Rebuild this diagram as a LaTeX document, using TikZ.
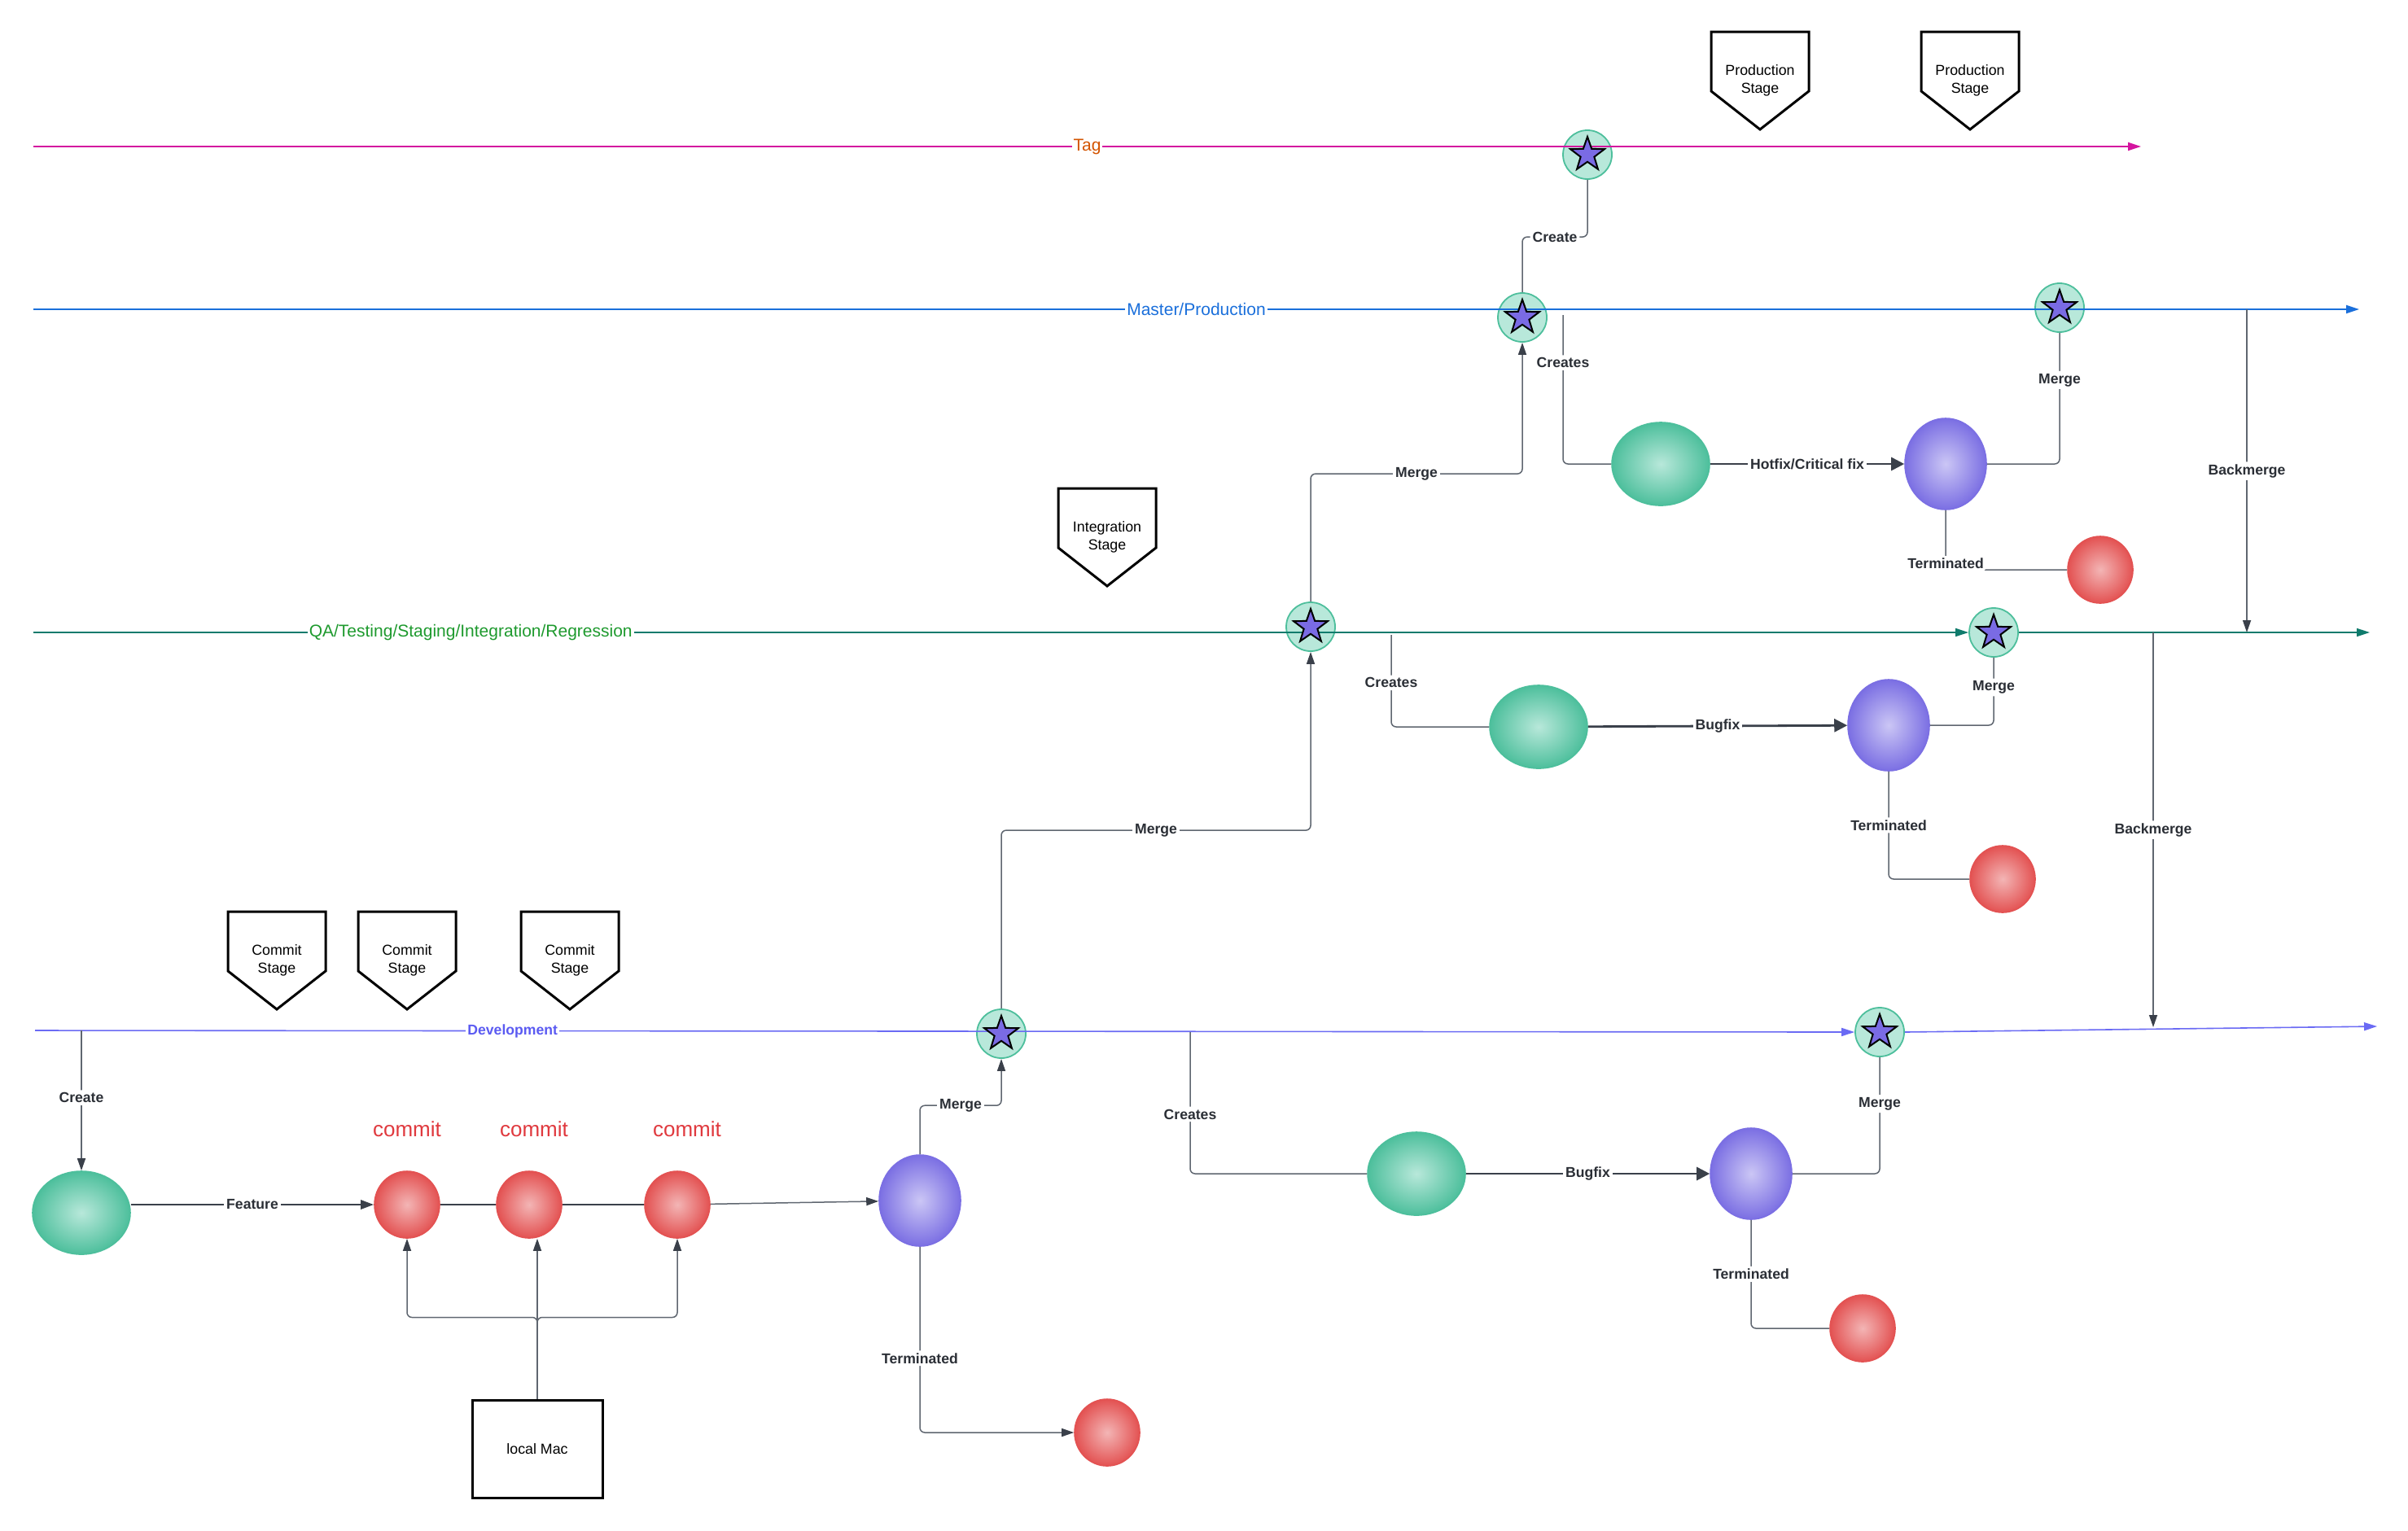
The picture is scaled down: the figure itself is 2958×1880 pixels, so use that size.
\documentclass[tikz,border=0pt]{standalone}
\usepackage{fontspec}
\setmainfont{Liberation Sans}
\usetikzlibrary{shapes.geometric,arrows.meta,calc}

\definecolor{tagc}{HTML}{D4149F}
\definecolor{tagtxt}{HTML}{D35400}
\definecolor{masterc}{HTML}{1A6FDB}
\definecolor{qac}{HTML}{0F7B6C}
\definecolor{qatxt}{HTML}{1E9A2E}
\definecolor{devc}{HTML}{6A6AF4}
\definecolor{devtxt}{HTML}{5B5BF2}
\definecolor{conc}{HTML}{5F6670}
\definecolor{arrc}{HTML}{3A404A}
\definecolor{lbl}{HTML}{2B2F36}
\definecolor{grin}{HTML}{B8E8DA}
\definecolor{grout}{HTML}{4DBF9C}
\definecolor{puin}{HTML}{CBC6F5}
\definecolor{puout}{HTML}{7B6FE3}
\definecolor{rdin}{HTML}{F3B5B5}
\definecolor{rdout}{HTML}{E35252}
\definecolor{starfill}{HTML}{7A6BE4}
\definecolor{commitc}{HTML}{E0393E}

\newcommand\lblfont{\bfseries\fontsize{8.8}{10}\selectfont}
\newcommand\linefont{\fontsize{10.5}{12}\selectfont}
\newcommand\stgfont{\fontsize{8.9}{11}\selectfont}

\newcommand\stagebox[4]{%
  \draw[stageline] (#2-60,#3-60) -- (#2+60,#3-60) -- (#2+60,#3+13) -- (#2,#3+60) -- (#2-60,#3+13) -- cycle;
  \node[stagetxt] (#1) at (#2,#3) {#4};
}

\begin{document}
\begin{tikzpicture}[x=0.5pt,y=-0.5pt,
  stageline/.style={draw=black,line width=1.5pt,line join=miter},
  stagetxt/.style={align=center,font=\stgfont,inner sep=0pt},
  gnode/.style={ellipse,minimum width=60pt,minimum height=51pt,inner sep=0pt,draw=grout,line width=0.8pt,inner color=grin,outer color=grout},
  pnode/.style={ellipse,minimum width=50pt,minimum height=56pt,inner sep=0pt,draw=puout,line width=0.8pt,inner color=puin,outer color=puout},
  rnode/.style={ellipse,minimum width=40pt,minimum height=41pt,inner sep=0pt,draw=rdout,line width=0.8pt,inner color=rdin,outer color=rdout},
  scirc/.style={circle,minimum size=30pt,inner sep=0pt,fill=grin,draw=grout,line width=0.9pt},
  sstar/.style={star,star points=5,star point ratio=2.5,minimum size=22pt,inner sep=0pt,fill=starfill,draw=black,line width=1pt},
  macbox/.style={rectangle,draw=black,line width=1.5pt,minimum width=80pt,minimum height=60pt,font=\stgfont},
  linelab/.style={fill=white,inner sep=1pt,font=\linefont},
  tagline/.style={draw=tagc,line width=1pt,-{Triangle[length=8pt,width=5pt]}},
  masterline/.style={draw=masterc,line width=1pt,-{Triangle[length=8pt,width=5pt]}},
  qaline/.style={draw=qac,line width=0.8pt,-{Triangle[length=8pt,width=5pt]}},
  devline/.style={draw=devc,line width=0.8pt,-{Triangle[length=8pt,width=5pt]}},
  conn/.style={draw=conc,line width=0.75pt,rounded corners=3pt},
  connarr/.style={conn,-{Triangle[length=7.5pt,width=5pt,color=arrc]}},
  thickarr/.style={draw=arrc,line width=1.4pt,-{Triangle[length=8pt,width=8pt]}},
  featarr/.style={draw=arrc,line width=1.4pt,-{Triangle[length=8pt,width=5.5pt]}},
  darkline/.style={draw=arrc,line width=0.8pt},
  lab/.style={fill=white,inner sep=1.5pt,text=lbl,font=\lblfont},
  commitlab/.style={text=commitc,font=\fontsize{13}{15}\selectfont,inner sep=0pt}
]
\fill[white] (0,0) rectangle (2958,1880);
\useasboundingbox (0,0) rectangle (2958,1880);

% stage markers
\stagebox{ps1}{2162}{99}{Production\\Stage}
\stagebox{ps2}{2420}{99}{Production\\Stage}
\stagebox{is1}{1360}{660}{Integration\\Stage}
\stagebox{cs1}{340}{1180}{Commit\\Stage}
\stagebox{cs2}{500}{1180}{Commit\\Stage}
\stagebox{cs3}{700}{1180}{Commit\\Stage}

% star circles
\node[scirc] (ts) at (1950,190) {};
\node[scirc] (ms1) at (1870,390) {};
\node[scirc] (ms2) at (2530,378) {};
\node[scirc] (qs1) at (1610,770) {};
\node[scirc] (qs2) at (2449,777) {};
\node[scirc] (ds1) at (1230,1270) {};
\node[scirc] (ds2) at (2309,1268) {};

% main lines
\coordinate (tl0) at (41,180); \coordinate (tl1) at (2630,180);
\draw[tagline] (tl0) -- node[linelab,text=tagtxt] (taglab) {Tag} (tl1);
\coordinate (ml0) at (41,380); \coordinate (ml1) at (2898,380);
\draw[masterline] (ml0) -- node[linelab,text=masterc] (mlab) {Master/Production} (ml1);
\coordinate (ql0) at (41,777); \coordinate (ql1) at (2911,777);
\draw[qaline] (ql0) -- node[linelab,text=qatxt,pos=0.226] (qlab) {QA/Testing/Staging/Integration/Regression} (qs2.west);
\draw[qaline] (qs2.east) -- (ql1);
\coordinate (dl0) at (43,1266); \coordinate (dl1) at (2920,1261);
\draw[devline] (dl0) -- node[linelab,text=devtxt,font=\lblfont,pos=0.2625] (dlab) {Development} (ds2.west);
\draw[devline] (ds2.east) -- (dl1);

% stars
\node[sstar] (tsS) at (ts) {};
\node[sstar] (ms1S) at (ms1) {};
\node[sstar] (ms2S) at (ms2) {};
\node[sstar] (qs1S) at (qs1) {};
\node[sstar] (qs2S) at (qs2) {};
\node[sstar] (ds1S) at (ds1) {};
\node[sstar] (ds2S) at (ds2) {};

% branch nodes
\node[gnode] (hg) at (2040,570) {};
\node[pnode] (hp) at (2390,570) {};
\node[rnode] (hr) at (2580,700) {};
\node[gnode] (qg) at (1890,893) {};
\node[pnode] (qp) at (2320,891) {};
\node[rnode] (qr) at (2460,1080) {};
\node[gnode] (dg) at (1740,1442) {};
\node[pnode] (dp) at (2151,1442) {};
\node[rnode] (dr) at (2288,1632) {};
\node[gnode] (fg) at (100,1490) {};
\node[rnode] (c1) at (500,1480) {};
\node[rnode] (c2) at (650,1480) {};
\node[rnode] (c3) at (832,1480) {};
\node[pnode] (fp) at (1130,1475) {};
\node[rnode] (fr) at (1360,1760) {};
\node[macbox] (mac) at (660,1780) {local Mac};

\node[commitlab] (cl1) at (500,1387) {commit};
\node[commitlab] (cl2) at (656,1387) {commit};
\node[commitlab] (cl3) at (844,1387) {commit};

% connectors: master / tag / hotfix
\draw[conn] (ms1.north) -- ++(0,-68) -| node[lab,pos=0.25] {Create} (ts.south);
\coordinate (mcr) at (1920,387);
\draw[conn] (mcr) |- node[lab,pos=0.16] {Creates} (hg.west);
\draw[thickarr] (hg) -- node[lab] {Hotfix/Critical fix} (hp);
\draw[conn] (hp.east) -| node[lab,pos=0.82] {Merge} (ms2.south);
\draw[conn] (hp.south) |- node[lab,pos=0.45] {Terminated} (hr.west);
\coordinate (bm1s) at (2760,380); \coordinate (bm1e) at (2760,777);
\draw[connarr] (bm1s) -- node[lab] {Backmerge} (bm1e);

% QA
\draw[connarr] (qs1.north) -- ++(0,-157) -| node[lab,pos=0.25] {Merge} (ms1.south);
\coordinate (qcr) at (1709,780);
\draw[conn] (qcr) |- node[lab,pos=0.26] {Creates} (qg.west);
\draw[thickarr] (qg) -- node[lab] {Bugfix} (qp);
\draw[conn] (qp.east) -| node[lab,pos=0.78] {Merge} (qs2.south);
\draw[conn] (qp.south) |- node[lab,pos=0.25] {Terminated} (qr.west);
\coordinate (bm2s) at (2645,777); \coordinate (bm2e) at (2645,1262);
\draw[connarr] (bm2s) -- node[lab] {Backmerge} (bm2e);

% development
\coordinate (dcr) at (100,1266);
\draw[connarr] (dcr) -- node[lab,pos=0.48] {Create} (fg.north);
\draw[featarr] (c1.west -| fg.east) -- node[lab] {Feature} (c1.west);
\draw[darkline] (c1) -- (c2);
\draw[darkline] (c2) -- (c3);
\draw[connarr] (c3) -- (fp);
\draw[connarr] (fp.north) -- ++(0,-60) -| node[lab,pos=0.25] {Merge} (ds1.south);
\draw[connarr] (fp.south) |- node[lab,pos=0.3] {Terminated} (fr.west);
\draw[connarr] (ds1.north) -- ++(0,-219) -| node[lab,pos=0.25] {Merge} (qs1.south);
\coordinate (dcr2) at (1462,1268);
\draw[conn] (dcr2) |- node[lab,pos=0.29] {Creates} (dg.west);
\draw[thickarr] (dg) -- node[lab] {Bugfix} (dp);
\draw[conn] (dp.east) -| node[lab,pos=0.8] {Merge} (ds2.south);
\draw[conn] (dp.south) |- node[lab,pos=0.25] {Terminated} (dr.west);

% local Mac
\draw[connarr] (mac.north) -- ++(0,-100) -| (c1.south);
\draw[connarr] (mac.north) -- ++(0,-100) -| (c3.south);
\draw[connarr] (mac.north) -- (mac.north |- c2.south);
\end{tikzpicture}
\end{document}
